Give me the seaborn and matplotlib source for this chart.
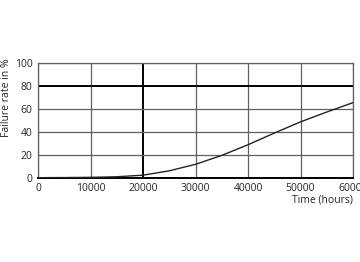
import matplotlib
matplotlib.use("Agg")
import matplotlib.pyplot as plt
import seaborn as sns
import pandas as pd

hours = [0, 5000, 10000, 15000, 20000, 25000, 30000, 35000, 40000, 45000, 50000, 55000, 60000]
failure = [0, 0.1, 0.3, 0.8, 2.2, 6.0, 11.7, 19.5, 28.8, 39.0, 48.8, 57.4, 65.6]
xticks = [0, 10000, 20000, 30000, 40000, 50000, 60000]
yticks = [0, 20, 40, 60, 80, 100]

sns.set_style("white")
plt.rcParams['font.family'] = ['Open Sans', 'DejaVu Sans']

df = pd.DataFrame({"hours": hours, "failure": failure})

fig = plt.figure(figsize=(3.6, 2.62), dpi=100)
ax = fig.add_axes([0.1056, 0.3218, 0.875, 0.4366])

for x in xticks:
    if x == 20000:
        ax.axvline(x, color='black', lw=1.4, zorder=1)
    else:
        ax.axvline(x, color='#606060', lw=0.9, zorder=1)
for y in yticks:
    if y == 80:
        ax.axhline(y, color='black', lw=1.4, zorder=1)
    else:
        ax.axhline(y, color='#606060', lw=0.9, zorder=1)

sns.lineplot(data=df, x="hours", y="failure", ax=ax, color='#222222', lw=1.0, zorder=3)

ax.set_xlim(0, 60000)
ax.set_ylim(0, 100)
ax.set_xticks(xticks)
ax.set_yticks(yticks)
ax.set_xticklabels([str(v) for v in xticks], fontsize=7.5)
ax.set_yticklabels([str(v) for v in yticks], fontsize=7.5)
ax.tick_params(length=0, pad=4)
ax.set_xlabel("")
ax.set_ylabel("")
fig.text(6.5 / 360, 1 - 98 / 262, "Failure rate in %", rotation=90,
         ha='center', va='center', fontsize=7.5)
fig.text(0.9806, 1 - 200.5 / 262, "Time (hours)", ha='right', va='center', fontsize=7.5)

for s in ['left', 'top', 'right']:
    ax.spines[s].set_color('#606060')
    ax.spines[s].set_linewidth(0.9)
ax.spines['bottom'].set_color('black')
ax.spines['bottom'].set_linewidth(1.4)

fig.savefig("out.png", dpi=100)
